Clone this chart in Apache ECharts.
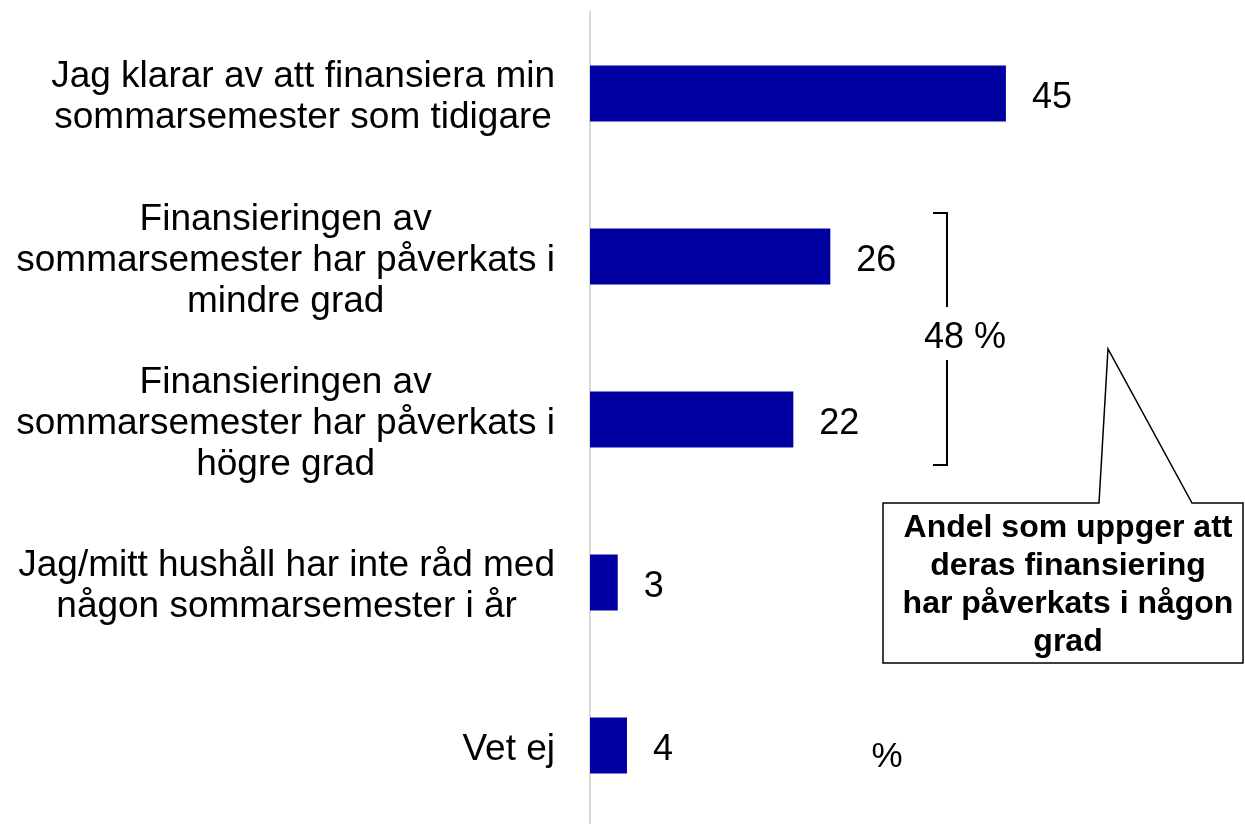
<!DOCTYPE html>
<html>
<head>
<meta charset="utf-8">
<title>Sommarsemester</title>
<script src="https://cdn.jsdelivr.net/npm/echarts@6/dist/echarts.min.js"></script>
<style>
    html, body { margin: 0; padding: 0; background: #fff; }
    #main { width: 1245px; height: 824px; }
</style>
</head>
<body>
<div id="main"></div>
<script>
const categories = [
    'Jag klarar av att finansiera min\nsommarsemester som tidigare',
    'Finansieringen av\nsommarsemester har påverkats i\nmindre grad',
    'Finansieringen av\nsommarsemester har påverkats i\nhögre grad',
    'Jag/mitt hushåll har inte råd med\nnågon sommarsemester i år',
    'Vet ej'
]
const values = [45, 26, 22, 3, 4]

const bracketText = '48 %'
const calloutText = 'Andel som uppger att\nderas finansiering\nhar påverkats i någon\ngrad'
const unitText = '%'

const font = "'Liberation Sans', Arial, sans-serif"

const chart = echarts.init(document.getElementById('main'))

const option = {
    backgroundColor: '#fff',
    animation: false,
    grid: {
        left: 590,
        right: 8,
        top: 12,
        height: 815,
        containLabel: false,
        outerBoundsMode: 'none'
    },
    xAxis: {
        type: 'value',
        min: 0,
        max: 70,
        show: false
    },
    yAxis: {
        type: 'category',
        inverse: true,
        data: categories,
        axisLine: { show: true, lineStyle: { color: '#d9d9d9', width: 2 } },
        axisTick: { show: false },
        splitLine: { show: false },
        axisLabel: {
            align: 'right',
            margin: 35,
            padding: [8, 0, 0, 0],
            formatter: function (v) {
                return v.split('\n').map(l => '{c|' + l + '}').join('\n')
            },
            rich: {
                c: {
                    align: 'center',
                    fontSize: 37,
                    lineHeight: 41,
                    color: '#000',
                    fontFamily: font
                }
            }
        }
    },
    series: [
        {
            type: 'bar',
            data: values,
            barWidth: 56,
            itemStyle: { color: '#0000a0' },
            label: {
                show: true,
                position: 'right',
                distance: 26,
                offset: [0, 5],
                fontSize: 36,
                color: '#000',
                fontFamily: font
            }
        }
    ],
    graphic: [
        // bracket round the two "påverkats" bars
        {
            type: 'polyline',
            shape: { points: [[933, 213], [947, 213], [947, 307]] },
            style: { stroke: '#000', lineWidth: 2, fill: null }
        },
        {
            type: 'polyline',
            shape: { points: [[947, 360], [947, 465], [933, 465]] },
            style: { stroke: '#000', lineWidth: 2, fill: null }
        },
        {
            type: 'text',
            x: 965,
            y: 338,
            style: {
                text: bracketText,
                fontSize: 36,
                fontFamily: font,
                fill: '#000',
                align: 'center',
                verticalAlign: 'middle'
            }
        },
        // callout box with pointer
        {
            type: 'polygon',
            shape: {
                points: [[883, 503], [1099, 503], [1108, 349], [1192, 503], [1243, 503], [1243, 663], [883, 663]]
            },
            style: { stroke: '#000', lineWidth: 1.5, fill: '#fff' }
        },
        {
            type: 'text',
            x: 1068,
            y: 585,
            style: {
                text: calloutText,
                fontSize: 32,
                fontWeight: 'bold',
                lineHeight: 38,
                fontFamily: font,
                fill: '#000',
                align: 'center',
                verticalAlign: 'middle'
            }
        },
        {
            type: 'text',
            x: 887,
            y: 757,
            style: {
                text: unitText,
                fontSize: 35,
                fontFamily: font,
                fill: '#000',
                align: 'center',
                verticalAlign: 'middle'
            }
        }
    ]
}

chart.setOption(option)
</script>
</body>
</html>
